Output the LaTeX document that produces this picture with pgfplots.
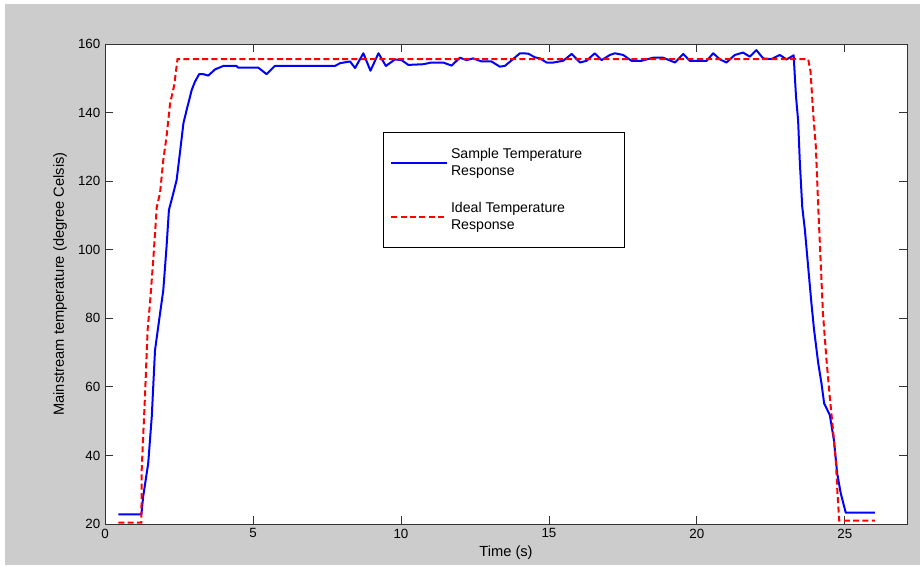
\documentclass[border=0pt]{standalone}
\usepackage{pgfplots}
\pgfplotsset{compat=1.18}
\usepackage{fontspec}
\setmainfont{Liberation Sans}
\definecolor{figgray}{RGB}{204,204,204}
\begin{document}
\begin{tikzpicture}[x=1pt,y=1pt]
\fill[white] (0,0) rectangle (690,423.75);
\fill[figgray] (3.75,0) rectangle (690,420.75);
\begin{axis}[
  at={(78.75pt,30.75pt)}, anchor=south west,
  scale only axis, width=601.5pt, height=360pt,
  axis background/.style={fill=white},
  xmin=0, xmax=27.1, ymin=20, ymax=160,
  xtick={0,5,...,25}, ytick={20,40,...,160},
  tick align=inside, tick pos=both,
  major tick length=6pt,
  axis line style={black!80, line width=0.6pt},
  tick style={black!80, line width=0.6pt},
  /pgf/number format/assume math mode=true,
  tick label style={font=\fontsize{10}{11}\selectfont},
  xlabel={Time (s)}, ylabel={Mainstream temperature (degree Celsis)},
  label style={font=\fontsize{11}{12}\selectfont},
  xlabel style={at={(axis description cs:0.5,-0.060)}, anchor=center},
  ylabel style={at={(axis description cs:-0.0561,0.5)}, anchor=center},
  legend style={at={(0.347,0.817)}, anchor=north west, draw=black, line width=0.6pt,
    font=\fontsize{10.6}{13}\selectfont, cells={align=left},
    inner xsep=5pt, inner ysep=10pt, row sep=14pt},
  legend cell align=left,
  legend image code/.code={\draw[#1] (0pt,0pt) -- (42pt,0pt);},
]
\addplot[blue, line width=1.5pt, line join=round] coordinates {
(0.45,22.8) (1.23,22.8) (1.29,28.0) (1.46,37.7) (1.58,51.3) (1.69,70.7) (1.86,81.4) (1.97,88.2) (2.08,100.9) (2.16,111.6) (2.31,116.5) (2.42,120.3) (2.53,128.1) (2.65,136.9) (2.76,140.8) (2.93,146.6) (3.04,149.0) (3.18,151.2) (3.32,151.2) (3.49,150.8) (3.72,152.6) (4.0,153.6) (4.44,153.6) (4.5,153.1) (5.18,153.1) (5.46,151.2) (5.74,153.6) (7.77,153.6) (7.94,154.4) (8.28,154.9) (8.45,153.0) (8.73,157.3) (8.97,152.2) (9.24,157.3) (9.49,153.6) (9.8,155.5) (10.02,155.3) (10.25,153.9) (10.75,154.1) (11.03,154.6) (11.43,154.6) (11.71,153.7) (11.99,156.0) (12.22,155.3) (12.44,155.8) (12.73,154.9) (13.06,154.9) (13.34,153.4) (13.51,153.6) (13.79,155.6) (14.02,157.3) (14.3,157.2) (14.53,156.1) (14.7,155.8) (14.92,154.6) (15.15,154.6) (15.48,155.1) (15.77,157.1) (16.05,154.6) (16.27,155.1) (16.55,157.3) (16.78,155.3) (17.06,156.8) (17.23,157.3) (17.51,156.8) (17.79,155.1) (18.13,155.1) (18.52,156.0) (18.86,156.0) (19.26,154.6) (19.54,157.1) (19.76,155.1) (20.33,155.1) (20.55,157.3) (20.78,155.5) (21.0,154.6) (21.28,156.8) (21.56,157.5) (21.79,156.3) (22.01,158.2) (22.24,155.8) (22.52,155.6) (22.8,156.8) (23.03,155.5) (23.27,156.7) (23.31,150.5) (23.35,144.6) (23.42,137.8) (23.48,125.2) (23.56,112.5) (23.65,105.7) (23.76,95.0) (23.87,84.4) (23.96,76.6) (24.1,66.9) (24.21,61.0) (24.30,55.2) (24.49,51.8) (24.63,44.5) (24.74,34.8) (24.86,29.0) (25.03,23.3) (26.01,23.3)
};
\addlegendentry{Sample Temperature\rule{25pt}{0pt}\\Response}
\addplot[red, line width=1.5pt, dash pattern=on 4.5pt off 2.5pt] coordinates {
(0.45,20.4) (1.23,20.4) (1.24,35.8) (1.35,57.1) (1.44,76.6) (1.52,84.4) (1.63,97.0) (1.75,112.5) (1.86,116.5) (1.97,126.2) (2.08,133.0) (2.20,142.7) (2.34,148.0) (2.45,155.6) (23.76,155.6) (23.84,152) (23.93,139.8) (24.02,130.0) (24.1,112.5) (24.18,97.0) (24.26,81.4) (24.38,67.8) (24.49,57.1) (24.6,47.4) (24.70,37.7) (24.75,29.0) (24.81,21.0) (26.01,21.0)
};
\addlegendentry{Ideal Temperature\\Response}
\end{axis}
\end{tikzpicture}
\end{document}
